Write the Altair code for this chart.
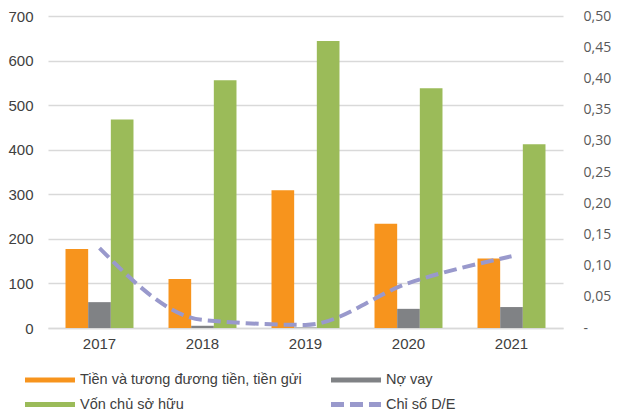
import altair as alt
import pandas as pd

# Dữ liệu (tỷ đồng) và chỉ số D/E theo năm
years = ["2017", "2018", "2019", "2020", "2021"]
tien = [177, 110, 309, 234, 156]
no_vay = [58, 5, 1, 43, 47]
von_csh = [468, 556, 644, 538, 412]
de_ratio = [0.128, 0.013, 0.005, 0.072, 0.115]

series_names = ["Tiền và tương đương tiền, tiền gửi", "Nợ vay", "Vốn chủ sở hữu", "Chỉ số D/E"]
series_colors = ["#F7941D", "#808285", "#9BBB59", "#9999CC"]
series_dashes = [[1, 0], [1, 0], [1, 0], [13, 6]]

rows = []
for i, y in enumerate(years):
    rows.append({"year": y, "series": series_names[0], "value": tien[i], "order": 0})
    rows.append({"year": y, "series": series_names[1], "value": no_vay[i], "order": 1})
    rows.append({"year": y, "series": series_names[2], "value": von_csh[i], "order": 2})
bars_df = pd.DataFrame(rows)
line_df = pd.DataFrame({"year": years, "de": de_ratio, "series": series_names[3]})

color_scale = alt.Scale(domain=series_names, range=series_colors)
dash_scale = alt.Scale(domain=series_names, range=series_dashes)

# legend keys drawn as a wide horizontal stroke
legend = alt.Legend(
    title=None,
    orient="none",
    legendX=-9,
    legendY=353,
    direction="horizontal",
    columns=2,
    columnPadding=18,
    rowPadding=3.5,
    symbolType="M-3,0H3",
    symbolSize=278,
    symbolStrokeWidth=5,
    labelFont="Liberation Sans",
    labelFontSize=14.5,
    labelColor="#404040",
    labelOffset=19,
    labelLimit=400,
)

x_enc = alt.X(
    "year:N",
    title=None,
    scale=alt.Scale(paddingInner=0.34, paddingOuter=0.17),
    axis=alt.Axis(
        labelFont="Liberation Sans",
        labelFontSize=15,
        labelColor="#404040",
        labelAngle=0,
        labelPadding=8,
        ticks=False,
        domainColor="#d9d9d9",
        domainWidth=1.5,
    ),
)

bars = alt.Chart(bars_df).mark_bar().encode(
    x=x_enc,
    xOffset=alt.XOffset("order:O", scale=alt.Scale(paddingInner=0, paddingOuter=0)),
    y=alt.Y(
        "value:Q",
        title=None,
        scale=alt.Scale(domain=[0, 700], nice=False),
        axis=alt.Axis(
            values=list(range(0, 701, 100)),
            labelFont="Liberation Sans",
            labelFontSize=15,
            labelColor="#404040",
            labelPadding=15,
            ticks=False,
            domain=False,
            gridColor="#d9d9d9",
            gridWidth=1.5,
        ),
    ),
    color=alt.Color("series:N", scale=color_scale, legend=legend),
    strokeDash=alt.StrokeDash("series:N", scale=dash_scale, legend=legend),
)

line = alt.Chart(line_df).mark_line(strokeWidth=4, interpolate="monotone").encode(
    x=alt.X("year:N"),
    y=alt.Y(
        "de:Q",
        title=None,
        scale=alt.Scale(domain=[0, 0.5], nice=False),
        axis=alt.Axis(
            orient="right",
            values=[0, 0.05, 0.1, 0.15, 0.2, 0.25, 0.3, 0.35, 0.4, 0.45, 0.5],
            labelExpr="datum.value == 0 ? '-' : replace(format(datum.value, '.2f'), '.', ',')",
            labelFont="Open Sans",
            labelFontSize=14,
            labelColor="#595959",
            labelPadding=20,
            labelAlign="left",
            ticks=False,
            domain=False,
            grid=False,
        ),
    ),
    color=alt.Color("series:N", scale=color_scale, legend=legend),
    strokeDash=alt.StrokeDash("series:N", scale=dash_scale, legend=legend),
)

chart = (
    alt.layer(bars, line)
    .resolve_scale(y="independent")
    .properties(
        width=515,
        height=312,
        autosize=alt.AutoSizeParams(type="none"),
        padding={"left": 48, "top": 16, "right": 54, "bottom": 84},
        background="white",
    )
    .configure_view(stroke=None)
)

chart.save("out.html", embed_options={"renderer": "svg", "actions": False})
